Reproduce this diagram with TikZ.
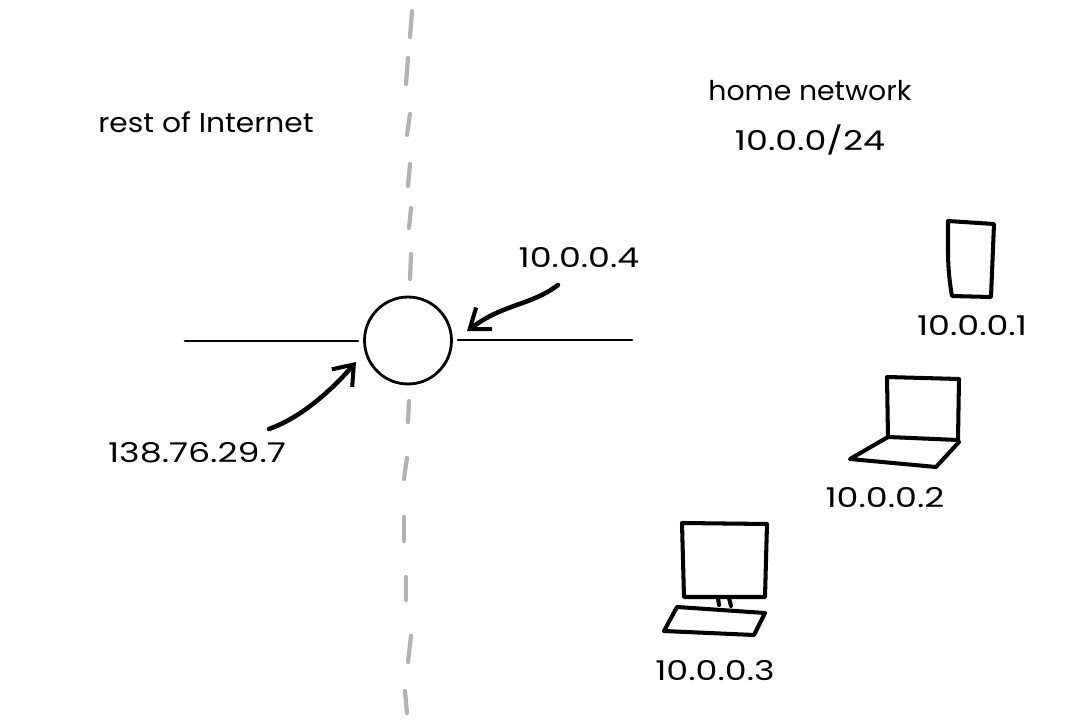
\documentclass[tikz,border=0pt]{standalone}
\usepackage{fontspec}
\setmainfont{Poppins}
\newfontfamily\ipfont[FakeStretch=1.28]{Poppins}
\usetikzlibrary{arrows.meta}

\begin{document}
\begin{tikzpicture}[x=0.02cm,y=-0.02cm,
	line cap=round,line join=round,
	>={Straight Barb[length=3.6mm,width=5.4mm,line width=2.3pt]},
	wire/.style={black,line width=1.6pt},
	device/.style={black,line width=2.3pt},
	pointer/.style={black,line width=2.6pt,->},
	border/.style={gray!60,line width=2.4pt},
	netlabel/.style={font=\fontsize{15.5}{18}\selectfont,inner sep=0pt},
	addr/.style={font=\ipfont\fontsize{15.5}{18}\selectfont,inner sep=0pt}]
	
	\useasboundingbox (0,0) rectangle (1080,720);
	
	% --- Dashed border between the two networks
	\foreach \xa/\ya/\xb/\yb in {412/11/410/37,408/58/406/84,410/114/407/135,410/164/408/186,
		411/208/409/228,411/254/410/279,409/401/408/422,407/458/404/479,
		404/517/404/541,406/577/406/600,411/636/408/662,405/691/407/713}{
		\draw[border] (\xa,\ya) -- (\xb,\yb);
	}
	
	% --- Router and its two links
	\node[circle,draw,line width=1.6pt,minimum size=1.74cm,inner sep=0pt,outer sep=0pt] (router) at (408,340.5) {};
	\coordinate (wanend) at (185,341);
	\coordinate (wanport) at (358,341);
	\coordinate (lanport) at (458,340);
	\coordinate (lanend) at (632,340);
	\draw[wire] (wanend) -- (wanport);
	\draw[wire] (lanport) -- (lanend);
	
	% --- Labels
	\node[netlabel] (rest) at (206,122) {\addfontfeatures{FakeStretch=1.09}rest of Internet};
	\node[netlabel] (home) at (810,91) {\addfontfeatures{FakeStretch=1.04}home network};
	\node[addr] (subnet) at (810,140) {10.0.0/24};
	\node[addr] (lanaddr) at (579,258) {10.0.0.4};
	\node[addr] (wanaddr) at (197,453) {138.76.29.7};
	\node[addr] (phoneaddr) at (972,326) {10.0.0.1};
	\node[addr] (laptopaddr) at (885,498) {10.0.0.2};
	\node[addr] (desktopaddr) at (715,671) {10.0.0.3};
	
	% --- Address pointers
	\coordinate (lanstart) at (558,285);
	\coordinate (lantip) at (467,331);
	\coordinate (wanstart) at (269,429);
	\coordinate (wantip) at (356,362);
	\draw[pointer] (lanstart) .. controls (530,306) and (505,303) .. (lantip);
	\draw[pointer] (wanstart) .. controls (300,418) and (330,392) .. (wantip);
	
	% --- Phone
	\draw[device] (948,221) -- (994,224) -- (991,297) -- (952,296) .. controls (950,285) and (948,270) .. (948,250) -- cycle;
	
	% --- Laptop
	\draw[device] (888,437) -- (887,377) -- (959,379) -- (958,440) -- cycle;
	\draw[device] (888,437) -- (850,459) -- (936,467) -- (959,442);
	
	% --- Desktop
	\draw[device] (682,523) -- (767,524) -- (765,597) -- (684,597) -- cycle;
	\draw[device] (718,598) -- (719,605);
	\draw[device] (729,598) -- (731,606);
	\draw[device] (677,607) -- (765,613) -- (754,635) -- (664,631) -- cycle;
	
\end{tikzpicture}
\end{document}
